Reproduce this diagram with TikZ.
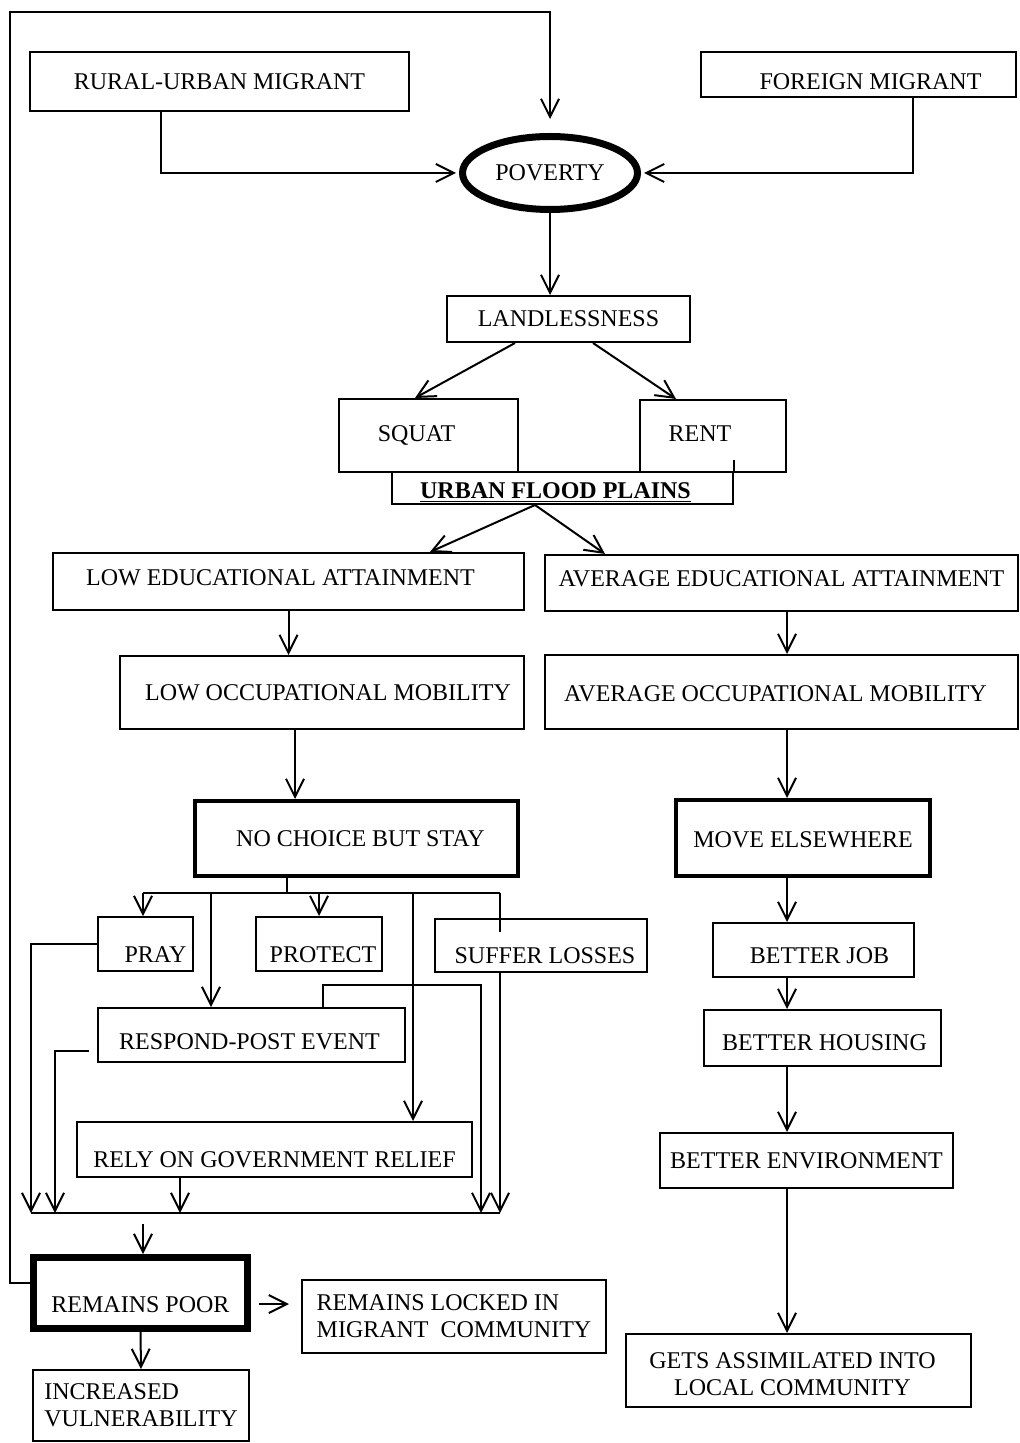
\documentclass[tikz,border=0pt]{standalone}
\usepackage{fontspec}
\setmainfont{Liberation Serif}
\usetikzlibrary{arrows.meta,shapes.geometric,positioning,calc}
% move the printed text inside a box without changing the box
\newcommand\nudgetext[3]{\raisebox{#2}[\height][\depth]{\rlap{\hspace*{#1}#3}\phantom{#3}}}

\begin{document}
\begin{tikzpicture}[x=0.5pt,y=-0.5pt,
  font=\fontsize{12}{13.5}\selectfont,
  box/.style={draw, line width=1pt, inner sep=2pt, align=center},
  heavy/.style={box, line width=2pt},
  ln/.style={line width=1pt},
  arr/.style={line width=1pt, -{Straight Barb[length=9pt,width=9pt]}}]
\useasboundingbox (0,0) rectangle (1020,1443);

% top part
\node[box, minimum width=189.5pt, minimum height=29.5pt] (rural) at (219.5,81.5) {RURAL-URBAN MIGRANT};
\node[box, minimum width=157.5pt, minimum height=22.5pt] (foreign) at (858.5,75) {\nudgetext{6pt}{-3.5pt}{FOREIGN MIGRANT}};
\node[ellipse, draw, line width=3.5pt, minimum width=87.5pt, minimum height=36.5pt] (poverty) at (550,173) {POVERTY};
\node[box, minimum width=121.5pt, minimum height=23pt] (landless) at (568.5,319) {LANDLESSNESS};
\node[box, minimum width=89.5pt, minimum height=36.5pt] (squat) at (428.5,435.5) {\nudgetext{-6pt}{0pt}{SQUAT}};
\node[box, minimum width=73pt, minimum height=36pt] (rent) at (713,436) {\nudgetext{-6.5pt}{1pt}{RENT}};
\node[box, inner sep=0pt, minimum width=170.5pt, minimum height=16pt] (ufp) at (562.5,488) {\nudgetext{-3.5pt}{-2.5pt}{\underline{\textbf{URBAN FLOOD PLAINS}}}};

% two columns
\node[box, minimum width=235.5pt, minimum height=28.5pt] (lowedu) at (288.5,581.5) {\nudgetext{-4pt}{2pt}{LOW EDUCATIONAL ATTAINMENT}};
\node[box, minimum width=236.5pt, minimum height=28pt] (avgedu) at (781.5,583) {\nudgetext{0pt}{2pt}{AVERAGE EDUCATIONAL ATTAINMENT}};
\node[box, minimum width=202pt, minimum height=36.5pt] (lowocc) at (322,692.5) {\nudgetext{3pt}{0pt}{LOW OCCUPATIONAL MOBILITY}};
\node[box, minimum width=236.5pt, minimum height=37pt] (avgocc) at (781.5,692) {\nudgetext{-3pt}{-1pt}{AVERAGE OCCUPATIONAL MOBILITY}};
\node[heavy, minimum width=161.5pt, minimum height=37.5pt] (stay) at (356.5,838.5) {\nudgetext{2pt}{0pt}{NO CHOICE BUT STAY}};
\node[heavy, minimum width=127pt, minimum height=38pt] (move) at (803,838) {\nudgetext{0pt}{-1pt}{MOVE ELSEWHERE}};
\node[box, minimum width=100.5pt, minimum height=27pt] (job) at (813.5,950) {\nudgetext{3pt}{-3pt}{BETTER JOB}};
\node[box, minimum width=118.5pt, minimum height=28pt] (housing) at (822.5,1038) {\nudgetext{1pt}{-2.5pt}{BETTER HOUSING}};
\node[box, minimum width=146.5pt, minimum height=27.5pt] (env) at (806.5,1160.5) {BETTER ENVIRONMENT};
\node[box, minimum width=172.5pt, minimum height=36.5pt] (assim) at (798.5,1370.5) {\nudgetext{-3pt}{-3pt}{\begin{tabular}{@{}c@{}}GETS ASSIMILATED INTO\\LOCAL COMMUNITY\end{tabular}}};

% staying
\node[box, minimum width=47.5pt, minimum height=27pt] (pray) at (145.5,944) {\nudgetext{5pt}{-5.5pt}{PRAY}};
\node[box, minimum width=63pt, minimum height=27pt] (protect) at (319,944) {\nudgetext{2pt}{-5.5pt}{PROTECT}};
\node[box, minimum width=106pt, minimum height=26.5pt] (suffer) at (541,945.5) {\nudgetext{2pt}{-5pt}{SUFFER LOSSES}};
\node[box, minimum width=153.5pt, minimum height=27pt] (respond) at (251.5,1035) {\nudgetext{-1pt}{-3.5pt}{RESPOND-POST EVENT}};
\node[box, minimum width=197.5pt, minimum height=27.5pt] (rely) at (274.5,1149.5) {\nudgetext{0pt}{-5pt}{RELY ON GOVERNMENT RELIEF}};
\node[box, line width=3.5pt, minimum width=107pt, minimum height=35.5pt] (poor) at (140.5,1293) {\nudgetext{0pt}{-6pt}{REMAINS POOR}};
\node[box, align=left, minimum width=152pt, minimum height=36.5pt] (locked) at (454,1316.5) {REMAINS LOCKED IN\\MIGRANT\ \ COMMUNITY};
\node[box, align=left, minimum width=108pt, minimum height=35.5pt] (vuln) at (141,1405.5) {INCREASED\\VULNERABILITY};

\coordinate (top) at (10,12);
\coordinate (rcol) at (787,0);
\coordinate (split) at (287,893);
\coordinate (bl) at (143,893);
\coordinate (br) at (500,893);
\coordinate (c2) at (211,893);
\coordinate (c4) at (413,893);
\coordinate (rt) at (323,985);
\coordinate (rr) at (481,985);
\coordinate (cl) at (31,1213);
\coordinate (c55) at (55,1213);
\coordinate (c180) at (180,1213);
\coordinate (cr) at (500,1213);
\coordinate (cp) at (143,1224);

% into poverty
\draw[arr, shorten >=7pt] ($(poor.west)+(0,-10)$) -| (top) -| (poverty.north);
\draw[arr, shorten >=1.5pt] ([xshift=-29.25pt]rural.south) |- (poverty.west);
\draw[arr, shorten >=1.5pt] ([xshift=27.25pt]foreign.south) |- (poverty.east);
\draw[arr] (poverty.south) -- (poverty.south |- landless.north);
\draw[arr] ([xshift=-26.75pt]landless.south) -- ([xshift=-6.75pt]squat.north);
\draw[arr] ([xshift=12.25pt]landless.south) -- ([xshift=-18.5pt]rent.north);
\draw[ln] (ufp.north east) -- ++(0,-11);
\draw[arr] ([xshift=-13.75pt]ufp.south) -- ([xshift=70.75pt]lowedu.north);
\draw[arr] ([xshift=-13.75pt]ufp.south) -- ([xshift=-88.25pt]avgedu.north);

% left column
\draw[arr] (lowedu.south) -- (lowedu.south |- lowocc.north);
\draw[arr] ([xshift=-13.5pt]lowocc.south) -- ([xshift=-30.75pt]stay.north);

% right column
\foreach \a/\b in {avgedu/avgocc, avgocc/move, move/job, job/housing, housing/env, env/assim}
  \draw[arr] (\a.south -| rcol) -- (\b.north -| rcol);

% what the stayers do
\draw[ln] (split |- stay.south) -- (split);
\draw[ln] (bl) -- (br);
\draw[arr] (bl) -- (bl |- pray.north);
\draw[arr] (c2) -- (c2 |- respond.north);
\draw[arr] (protect.north |- bl) -- (protect.north);
\draw[arr] (c4) -- (c4 |- rely.north);
\draw[ln] (br) -- ($(br |- suffer.north)+(0,14)$);

% down to the bar
\draw[arr] (pray.west) -| (cl);
\draw[arr] ($(respond.west)+(-8,16)$) -| (c55);
\draw[arr] (rt |- respond.north) -- (rt) -- (rr) -- (rr |- cr);
\draw[arr] (c180 |- rely.south) -- (c180);
\draw[arr] (suffer.south -| cr) -- (cr);
\draw[ln] (cl) -- (cr);
\draw[arr] (cp) -- (cp |- poor.north);
\draw[arr, shorten <=4pt, shorten >=6pt] ($(poor.east)+(0,11)$) -- ($(locked.west)+(0,-12.5)$);
\draw[arr] (poor.south) -- (vuln.north);
\end{tikzpicture}
\end{document}
